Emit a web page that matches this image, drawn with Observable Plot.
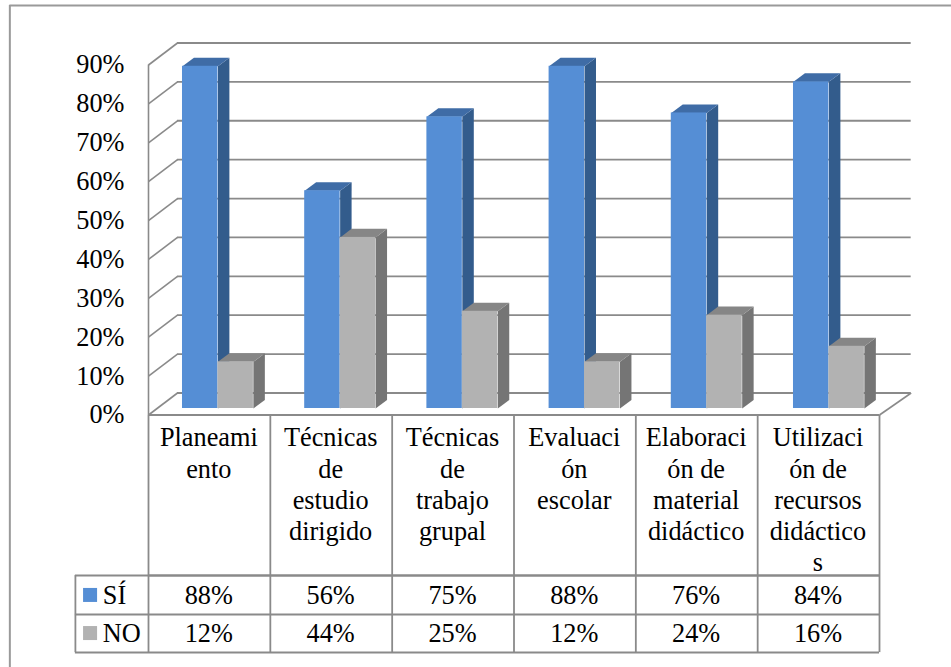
<!DOCTYPE html>
<html><head><meta charset="utf-8">
<style>html,body{margin:0;padding:0;background:#fff}svg{display:block}</style>
<script src="https://cdn.jsdelivr.net/npm/d3@7"></script>
<script src="https://cdn.jsdelivr.net/npm/@observablehq/plot@0.6"></script>
</head><body><script>
const categories = ["Planeami\nento","Técnicas\nde\nestudio\ndirigido","Técnicas\nde\ntrabajo\ngrupal","Evaluaci\nón\nescolar","Elaboraci\nón de\nmaterial\ndidáctico","Utilizaci\nón de\nrecursos\ndidáctico\ns"];
const si = [88,56,75,88,76,84];
const no = [12,44,25,12,24,16];
const seriesNames = ["SÍ","NO"];
const yTicks = [0,10,20,30,40,50,60,70,80,90];

const FONT = 26.3, GRID = "#8a8a8a";
const wallX = 0.238, wallXEnd = 6.26, wallY = 5.66;          // chart depth, in scale units
const barStep = 1.003, barBase = 1.67, barW = 0.291, barStart = 0.279, depX = 0.094, depY = 2.2;
const headBottom = -41.3, row1Bottom = -51.3, row2Bottom = -61.1, legendLeft = -0.6;
const row1Mid = -46.4, row2Mid = -56.2;

function bars(values, start, front, side, top, name){
  const verts = [], tops = [];
  values.forEach((v,i)=>{
    const l = i*barStep+start, r = l+barW, b = barBase, t = barBase+v;
    [[r,b],[r+depX,b+depY],[r+depX,t+depY],[r,t]].forEach(p=>verts.push({z:name+i,x:p[0],y:p[1]}));
    [[l,t],[r,t],[r+depX,t+depY],[l+depX,t+depY]].forEach(p=>tops.push({z:name+i,x:p[0],y:p[1]}));
  });
  return [
    Plot.line(verts,{x:"x",y:"y",z:"z",fill:side,stroke:"none"}),
    Plot.line(tops,{x:"x",y:"y",z:"z",fill:top,stroke:"none"}),
    Plot.rect(values,{x1:(d,i)=>i*barStep+start,x2:(d,i)=>i*barStep+start+barW,y1:barBase,y2:d=>barBase+d,fill:front})
  ];
}

const columnLines = d3.range(0,7);
const chart = Plot.plot({
  width:951, height:667,
  marginLeft:148, marginRight:72, marginTop:64.5, marginBottom:252.5,
  style:{fontFamily:"'Liberation Serif',serif",background:"#fff",color:"#000"},
  x:{domain:[0,6],axis:null},
  y:{domain:[0,90],axis:null},
  marks:[
    // outer frame
    Plot.ruleX([-1.138],{y1:-65,y2:105.3,stroke:"#9a9a9a",strokeWidth:2}),
    Plot.ruleY([105.3],{x1:-1.138,x2:6.6,stroke:"#9a9a9a",strokeWidth:2}),
    // walls
    Plot.ruleY(yTicks,{x1:wallX,x2:wallXEnd,y:d=>d+wallY,stroke:GRID,strokeWidth:1.8}),
    Plot.link(yTicks,{x1:0,y1:d=>d,x2:wallX,y2:d=>d+wallY,stroke:GRID,strokeWidth:1.6}),
    Plot.link([0],{x1:6,y1:0,x2:wallXEnd,y2:wallY,stroke:GRID,strokeWidth:1.6}),
    Plot.ruleX([0],{y1:0,y2:90,stroke:GRID,strokeWidth:1.6}),
    // bars
    ...bars(si,barStart,"#558ed5","#335c8c","#3f6ca6","si"),
    ...bars(no,barStart+barW,"#b2b2b2","#757575","#868686","no"),
    // table
    Plot.ruleY([0,headBottom],{x1:0,x2:6,stroke:GRID,strokeWidth:2}),
    Plot.ruleY([headBottom,row1Bottom,row2Bottom],{x1:legendLeft,x2:6,stroke:GRID,strokeWidth:2}),
    Plot.ruleX(columnLines,{y1:0,y2:row2Bottom,stroke:GRID,strokeWidth:1.8}),
    Plot.ruleX([legendLeft],{y1:headBottom,y2:row2Bottom,stroke:GRID,strokeWidth:1.8}),
    // y axis
    Plot.axisY(yTicks,{tickSize:0,tickPadding:24,tickFormat:d=>d+"%",label:null,fontSize:FONT}),
    // table text
    Plot.text(categories,{x:(d,i)=>i+0.495,y:-2.4,text:d=>d,lineAnchor:"top",fontSize:FONT,lineHeight:1.185,fill:"#000"}),
    Plot.text(si,{x:(d,i)=>i+0.495,y:row1Mid,text:d=>d+"%",fontSize:FONT,fill:"#000"}),
    Plot.text(no,{x:(d,i)=>i+0.495,y:row2Mid,text:d=>d+"%",fontSize:FONT,fill:"#000"}),
    Plot.text(seriesNames,{x:-0.375,y:(d,i)=>i?row2Mid:row1Mid,text:d=>d,textAnchor:"start",fontSize:FONT,fill:"#000"}),
    Plot.rect(seriesNames,{x1:-0.533,x2:-0.418,y1:(d,i)=>(i?row2Mid:row1Mid)-1.8,y2:(d,i)=>(i?row2Mid:row1Mid)+1.8,fill:(d,i)=>i?"#b2b2b2":"#558ed5"})
  ]
});
document.body.appendChild(chart);
</script></body></html>
